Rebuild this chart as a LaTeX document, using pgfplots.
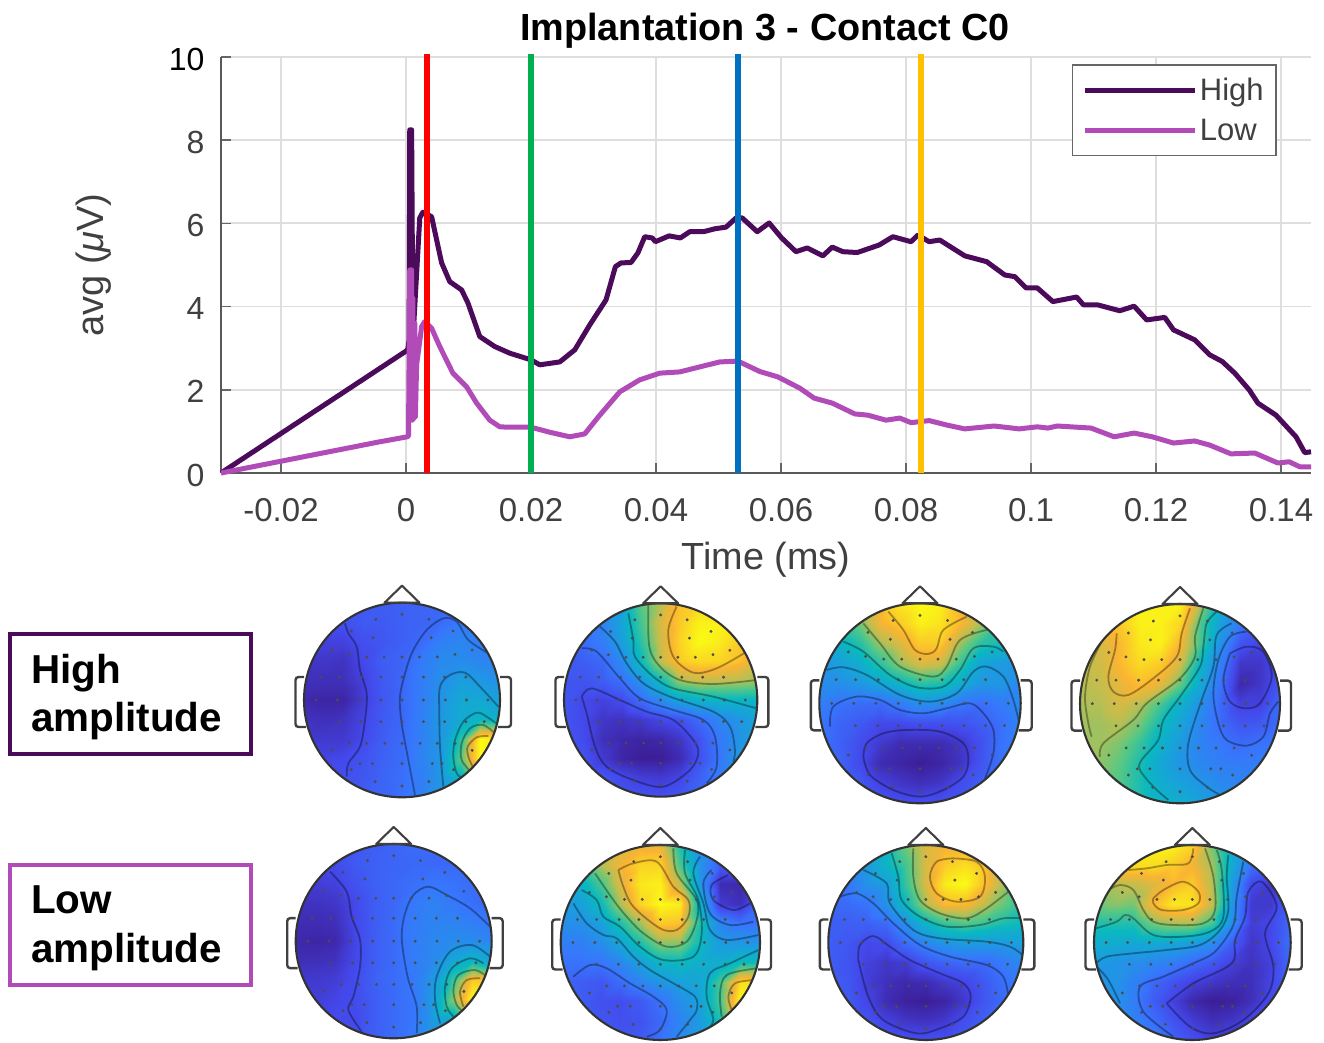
\documentclass[border=0pt]{standalone}
\usepackage{fontspec}
\setmainfont{Liberation Sans}
\usepackage{pgfplots}
\usepackage{pgfplotstable}
\pgfplotsset{compat=1.18}
\definecolor{hic}{RGB}{75,10,90}
\definecolor{loc}{RGB}{176,75,184}
\definecolor{tk}{RGB}{64,64,64}
\pgfplotsset{colormap={topo}{rgb255(0)=(60,30,150) rgb255(12)=(68,72,235) rgb255(25)=(55,118,252) rgb255(40)=(25,160,220) rgb255(52)=(10,185,190) rgb255(65)=(90,200,130) rgb255(75)=(190,190,80) rgb255(85)=(250,180,50) rgb255(100)=(250,250,20)}}
\pgfplotstableread{
0 -.88
-.267 -.829
.274 -.829
-.517 -.709
.521 -.709
-.295 -.64
.298 -.64
-.712 -.514
.716 -.514
-.541 -.469
.541 -.469
-.36 -.442
-.182 -.442
0 -.442
.178 -.442
.36 -.442
-.832 -.236
-.64 -.236
-.414 -.236
-.216 -.236
0 -.236
.219 -.236
.435 -.236
.651 -.236
-.877 0
-.658 0
-.438 0
-.216 0
0 0
.219 0
.442 0
.658 0
.877 0
-.64 .223
-.421 .223
-.216 .223
0 .223
.219 .223
.435 .223
.651 .223
.839 .223
-.538 .445
-.36 .445
-.175 .445
0 .445
.185 .445
.36 .445
.541 .445
-.712 .517
.716 .517
-.428 .654
-.301 .654
0 .654
.308 .654
.408 .654
-.517 .716
.527 .716
-.274 .839
.274 .839
0 .884
}\elec
\newcommand\setHead[8]{\def\hL{#1}\def\hR{#2}\def\hT{#3}\def\hB{#4}\def\zL{#5}\def\zR{#6}\def\zT{#7}\def\zB{#8}%
\pgfmathsetmacro\hW{#2-#1}\pgfmathsetmacro\hH{#4-#3}\pgfmathsetmacro\hY{1042-#4}%
\pgfmathsetmacro\cxx{(#1+#2)/2}\pgfmathsetmacro\cyy{1042-(#3+#4)/2}%
\pgfmathsetmacro\rxx{(#2-#1)/2}\pgfmathsetmacro\ryy{(#4-#3)/2}%
\pgfmathsetmacro\Xc{(#5+#6)/2}\pgfmathsetmacro\Yc{(#7+#8)/2}\pgfmathsetmacro\Xr{(#6-#5)/2}\pgfmathsetmacro\Yr{(#8-#7)/2}}
\pgfplotsset{topo/.style={scale only axis,hide axis,anchor=south west,at={(\hL pt,\hY pt)},width=\hW pt,height=\hH pt,xmin=\zL,xmax=\zR,ymin=\zT,ymax=\zB,y dir=reverse}}
\newcommand\cn[1]{\addplot[smooth,tension=.55,black,opacity=.34,line width=1.8pt] coordinates {#1};}
\newcommand\headplot[2]{%
\begin{scope}
\clip (\cxx pt,\cyy pt) ellipse [x radius=\rxx pt,y radius=\ryy pt];
\begin{axis}[topo,view={0}{90},zmin=-1,zmax=1,colormap name=topo,point meta min=0,point meta max=100]
\addplot3[surf,shader=interp,mesh/cols=11,mesh/ordering=x varies,point meta=\thisrowno{0}] table[row sep=crcr,header=false,x expr={\zL+(\zR-\zL)*mod(\coordindex,11)/10},y expr={\zT+(\zB-\zT)*floor(\coordindex/11)/10},z expr=0] {#1};
\end{axis}
\begin{axis}[topo]
#2
\addplot[only marks,mark=*,mark size=1.25pt,black!70,mark options={draw=none}] table[x expr={\Xc+\Xr*\thisrowno{0}},y expr={\Yc+\Yr*\thisrowno{1}},header=false] {\elec};
\end{axis}
\end{scope}
\draw[black!80,line width=2.1pt] (\cxx pt,\cyy pt) ellipse [x radius=\rxx pt,y radius=\ryy pt];
\draw[black!75,line width=2.1pt,line join=round] (\cxx pt-17.5pt,\cyy pt+\ryy pt) -- (\cxx pt,\cyy pt+\ryy pt+17pt) -- (\cxx pt+17.5pt,\cyy pt+\ryy pt) -- cycle;
\draw[black!75,line width=2.4pt,rounded corners=3pt] (\hL pt,\cyy pt+23pt) -- (\hL pt-8.5pt,\cyy pt+23pt) -- (\hL pt-8.5pt,\cyy pt-27pt) -- (\hL pt+2pt,\cyy pt-27pt);
\draw[black!75,line width=2.4pt,rounded corners=3pt] (\hR pt,\cyy pt+23pt) -- (\hR pt+11pt,\cyy pt+23pt) -- (\hR pt+11pt,\cyy pt-27pt) -- (\hR pt-2pt,\cyy pt-27pt);
}
\begin{document}
\begin{tikzpicture}[x=1pt,y=1pt]
\useasboundingbox (0,0) rectangle (1324,1042);
\begin{axis}[scale only axis,anchor=south west,at={(221pt,569pt)},width=1090pt,height=416pt,
xmin=-0.0296,xmax=0.1448,ymin=0,ymax=10,clip=false,
axis x line=bottom,axis y line=left,axis line style={-,draw=black!65,line width=2pt},
xtick={-0.02,0,0.02,0.04,0.06,0.08,0.1,0.12,0.14},
xticklabels={-0.02,0,0.02,0.04,0.06,0.08,0.1,0.12,0.14},
ytick={0,2,4,6,8,10},yticklabels={0,2,4,6,8,{\color{black}10}},
tick align=inside,major tick length=10pt,tick style={draw=black!60,line width=1.5pt},
grid=major,grid style={draw=black!13,line width=1.8pt},
xticklabel style={font=\fontsize{33}{36}\selectfont,text=tk,yshift=-22pt},
yticklabel style={font=\fontsize{32}{36}\selectfont,text=tk,xshift=-13pt,yshift=-2pt},
title={Implantation 3 - Contact C0},title style={font=\fontsize{37.8}{40}\selectfont\bfseries,at={(axis description cs:0.499,1.026)},anchor=base},
xlabel={Time (ms)},xlabel style={font=\fontsize{37.8}{40}\selectfont,text=tk,at={(axis description cs:0.5,-0.233)},anchor=base},
ylabel={avg ({\itshape μ}V)},ylabel style={font=\fontsize{38}{40}\selectfont,text=tk,at={(axis description cs:-0.108,0.5)},anchor=base},
legend style={at={(0.9688,0.983)},anchor=north east,draw=black!60,line width=1.6pt,font=\fontsize{31}{36}\selectfont,text=tk,row sep=13pt,inner xsep=10.5pt,inner ysep=11.5pt,legend cell align=left},
legend image code/.code={\draw[#1] (-3pt,0pt) -- (107pt,0pt);},
]
\addplot[hic,line width=5pt,line join=round] coordinates {
(-.0296,0)(0,2.93)(.0003,2.98)(.0005,3.2)(.0006,8.25)(.0009,8.25)(.0011,3.2)(.0022,6.13)(.0027,6.27)(.0041,6.16)(.0057,5.05)(.0070,4.6)(.0089,4.4)(.0099,4.09)(.0118,3.28)(.0142,3.04)(.0166,2.88)(.02,2.72)(.0214,2.6)(.0246,2.67)(.027,2.96)(.0294,3.56)(.032,4.16)(.0335,4.96)(.0344,5.05)(.036,5.06)(.0371,5.29)(.0382,5.68)(.0394,5.65)(.0399,5.56)(.0421,5.70)(.0439,5.65)(.0454,5.80)(.0476,5.80)(.0494,5.87)(.0512,5.91)(.0528,6.13)(.0538,6.13)(.0562,5.80)(.0581,6.01)(.0601,5.65)(.0624,5.32)(.0642,5.41)(.0667,5.22)(.0682,5.43)(.0699,5.32)(.0722,5.30)(.0757,5.48)(.0779,5.68)(.0808,5.56)(.0819,5.72)(.0837,5.56)(.0854,5.60)(.0894,5.22)(.0929,5.08)(.0958,4.76)(.0974,4.72)(.0992,4.45)(.1010,4.45)(.1035,4.12)(.1073,4.23)(.1084,4.04)(.1107,4.04)(.1142,3.90)(.1165,4.01)(.1185,3.68)(.1214,3.74)(.1228,3.44)(.1262,3.20)(.1286,2.84)(.1306,2.68)(.1326,2.40)(.1349,2.0)(.1363,1.68)(.1392,1.39)(.1424,.87)(.1438,.49)(.1448,.51)};
\addlegendentry{High}
\addplot[loc,line width=5pt,line join=round] coordinates {
(-.0296,0)(-.0042,.75)(.0002,.87)(.0004,.89)(.0006,4.88)(.0009,4.88)(.0010,1.27)(.0011,4.2)(.0012,1.3)(.0014,3.6)(.0015,1.35)(.0017,2.6)(.0025,3.52)(.003,3.64)(.0041,3.48)(.0054,3.04)(.0075,2.40)(.0097,2.07)(.0113,1.68)(.0134,1.27)(.015,1.11)(.0166,1.1)(.02,1.1)(.023,.98)(.0262,.87)(.0286,.94)(.031,1.39)(.0342,1.95)(.0374,2.24)(.0406,2.40)(.0438,2.43)(.047,2.55)(.0502,2.67)(.0531,2.69)(.0566,2.44)(.0595,2.31)(.063,2.04)(.0653,1.80)(.0682,1.68)(.0718,1.42)(.0739,1.39)(.0768,1.27)(.079,1.32)(.0808,1.21)(.0837,1.26)(.0866,1.15)(.0894,1.06)(.0941,1.13)(.0981,1.06)(.101,1.11)(.1027,1.08)(.1042,1.13)(.1096,1.08)(.1133,.87)(.1165,.96)(.1194,.87)(.1228,.72)(.1262,.77)(.1286,.67)(.132,.46)(.1358,.48)(.1395,.24)(.1413,.27)(.143,.15)(.1448,.15)};
\addlegendentry{Low}
\addplot[forget plot,red,line width=6pt] coordinates {(.00336,0)(.00336,10.06)};
\addplot[forget plot,color={rgb,255:red,0;green,176;blue,80},line width=6pt] coordinates {(.02,0)(.02,10.06)};
\addplot[forget plot,color={rgb,255:red,0;green,112;blue,192},line width=6pt] coordinates {(.0531,0)(.0531,10.06)};
\addplot[forget plot,color={rgb,255:red,255;green,192;blue,0},line width=6pt] coordinates {(.0824,0)(.0824,10.06)};
\end{axis}
% label boxes
\draw[hic,line width=3.5pt] (10,408) rectangle (251,288);
\node[anchor=base west,font=\fontsize{40.4}{44}\selectfont\bfseries,inner sep=0pt] at (31,359) {High};
\node[anchor=base west,font=\fontsize{40.4}{44}\selectfont\bfseries,inner sep=0pt] at (31,310.3) {amplitude};
\draw[loc,line width=3.5pt] (10,177) rectangle (251,57);
\node[anchor=base west,font=\fontsize{40.4}{44}\selectfont\bfseries,inner sep=0pt] at (31,129) {Low};
\node[anchor=base west,font=\fontsize{40.4}{44}\selectfont\bfseries,inner sep=0pt] at (31,79.3) {amplitude};
% Head 1
\setHead{304}{500}{602.7}{797.3}{72}{660}{68}{652}
\headplot{
12\\12\\14\\16\\18\\19\\20\\21\\23\\24\\24\\
12\\12\\14\\17\\17\\19\\20\\22\\26\\26\\26\\
10\\10\\10\\14\\16\\19\\22\\29\\31\\27\\26\\
7\\7\\6\\12\\18\\20\\27\\32\\33\\31\\29\\
5\\5\\5\\10\\17\\21\\28\\34\\40\\37\\34\\
3\\2\\2\\9\\16\\21\\28\\36\\44\\44\\40\\
6\\5\\6\\11\\17\\21\\29\\37\\45\\50\\47\\
8\\8\\8\\12\\18\\22\\29\\37\\58\\100\\95\\
11\\11\\12\\15\\19\\22\\30\\37\\65\\100\\95\\
13\\13\\14\\16\\20\\23\\28\\37\\48\\55\\50\\
14\\14\\16\\18\\20\\24\\29\\36\\40\\40\\40\\
}{
\cn{(195,130)(205,160)(230,200)(240,270)(260,340)(255,420)(240,500)(205,550)(200,590)}
\cn{(625,220)(565,180)(530,125)(490,115)(440,150)(400,210)(378,270)(360,350)(365,430)(385,540)(405,645)}
\cn{(655,380)(600,320)(555,278)(510,285)(480,320)(478,400)(480,500)(490,620)}
\cn{(655,435)(620,410)(590,398)(550,425)(525,480)(520,530)(530,580)(550,595)}
\cn{(650,465)(610,435)(570,445)(545,490)(545,540)(575,578)}
\cn{(625,468)(590,472)(563,500)(565,530)(580,565)}
}
% Head 2
\setHead{564}{757.3}{603.3}{796.7}{852}{1432}{70}{650}
\headplot{
40\\40\\40\\40\\65\\75\\88\\92\\92\\92\\92\\
28\\28\\30\\42\\62\\80\\90\\98\\98\\95\\90\\
20\\22\\28\\40\\58\\78\\92\\100\\97\\90\\85\\
16\\18\\21\\32\\52\\76\\90\\93\\92\\88\\80\\
16\\15\\18\\23\\35\\52\\72\\76\\75\\74\\72\\
16\\12\\10\\13\\22\\32\\42\\48\\50\\50\\50\\
16\\12\\7\\6\\8\\12\\15\\22\\31\\36\\42\\
16\\13\\5\\3\\2\\3\\7\\15\\26\\35\\42\\
16\\15\\8\\2\\0\\0\\4\\14\\25\\37\\40\\
16\\16\\16\\12\\9\\8\\11\\19\\27\\33\\35\\
18\\18\\18\\16\\15\\14\\16\\20\\26\\30\\30\\
}{
\cn{(905,350)(935,325)(1020,360)(1100,395)(1180,420)(1240,480)(1255,520)(1230,570)(1150,620)(1060,600)(980,560)(945,500)(920,400)(905,350)}
\cn{(905,205)(950,215)(1020,295)(1080,355)(1180,390)(1270,420)(1305,470)(1310,560)(1280,610)}
\cn{(960,140)(1005,185)(1040,250)(1090,310)(1170,350)(1300,395)(1350,440)(1365,510)(1360,545)}
\cn{(1045,100)(1060,180)(1065,230)(1120,290)(1180,325)(1300,350)(1430,385)}
\cn{(1105,75)(1108,200)(1140,260)(1200,300)(1300,312)(1430,300)}
\cn{(1190,80)(1165,150)(1180,230)(1240,278)(1310,265)(1395,218)}
}
% Head 3
\setHead{819.3}{1020.7}{603.3}{803.3}{58}{662}{70}{670}
\headplot{
60\\60\\72\\85\\96\\100\\98\\85\\72\\60\\60\\
45\\48\\68\\84\\90\\98\\95\\86\\74\\60\\50\\
40\\48\\57\\72\\80\\90\\90\\72\\58\\54\\45\\
34\\40\\46\\58\\71\\80\\78\\60\\42\\38\\35\\
32\\34\\37\\42\\50\\58\\56\\46\\37\\37\\32\\
28\\24\\22\\22\\27\\35\\33\\26\\23\\27\\33\\
25\\20\\17\\12\\12\\14\\14\\15\\18\\23\\30\\
25\\19\\13\\8\\4\\4\\4\\7\\14\\24\\28\\
24\\20\\12\\4\\2\\0\\2\\6\\15\\24\\26\\
24\\21\\17\\10\\7\\5\\7\\13\\18\\24\\26\\
24\\22\\20\\16\\14\\14\\14\\16\\20\\24\\26\\
}{
\cn{(265,95)(310,150)(345,210)(385,222)(410,205)(430,150)(500,110)}
\cn{(190,130)(240,190)(300,260)(400,290)(440,260)(480,180)(560,150)}
\cn{(130,185)(190,215)(270,285)(350,322)(430,320)(480,270)(520,205)(580,200)(610,215)}
\cn{(80,270)(130,262)(200,285)(300,345)(390,365)(470,340)(520,275)(560,260)(610,290)(640,360)(660,440)}
\cn{(90,440)(100,380)(170,350)(240,360)(300,390)(370,400)(440,385)(510,370)(550,400)(580,450)(580,520)(555,595)}
\cn{(190,530)(200,490)(250,460)(320,450)(420,455)(490,490)(505,540)(490,590)(430,630)(360,650)(280,630)(210,585)(190,530)}
}
% Head 4
\setHead{1080}{1280}{604}{803.3}{840}{1440}{72}{670}
\headplot{
90\\92\\95\\98\\98\\98\\74\\48\\30\\22\\22\\
80\\80\\90\\98\\98\\92\\63\\40\\26\\18\\15\\
76\\79\\86\\96\\98\\85\\62\\34\\15\\11\\14\\
74\\78\\86\\93\\90\\78\\50\\28\\7\\7\\14\\
74\\76\\82\\87\\82\\66\\44\\24\\3\\7\\16\\
73\\74\\79\\74\\62\\47\\35\\22\\10\\10\\22\\
72\\72\\74\\67\\53\\42\\31\\22\\16\\17\\22\\
72\\72\\68\\59\\48\\38\\30\\26\\22\\24\\25\\
72\\70\\65\\55\\43\\36\\31\\28\\27\\28\\28\\
70\\68\\63\\55\\46\\41\\36\\32\\30\\30\\30\\
66\\65\\61\\55\\50\\46\\41\\36\\32\\30\\30\\
}{
\cn{(950,160)(945,210)(925,290)(940,335)(985,345)(1060,295)(1130,230)(1145,160)(1170,85)}
\cn{(1210,85)(1185,170)(1185,230)(1140,295)(1040,370)(1000,420)(910,490)(900,530)}
\cn{(905,185)(870,260)(855,350)(865,430)(875,470)}
\cn{(1250,95)(1220,130)(1210,200)(1200,260)(1140,350)(1090,420)(1075,480)(1025,540)(1020,570)(1060,620)(1105,660)}
\cn{(1295,130)(1250,165)(1240,260)(1205,360)(1165,490)(1170,570)(1220,620)(1260,645)}
\cn{(1340,155)(1290,170)(1255,240)(1240,340)(1255,430)(1280,480)(1340,497)(1390,470)(1410,400)(1435,365)}
\cn{(1290,220)(1340,200)(1390,215)(1415,290)(1380,370)(1335,385)(1290,365)(1270,300)(1290,220)}
}
% Head 5
\setHead{295.7}{491.7}{844}{1038.3}{47}{635}{72}{655}
\headplot{
12\\12\\14\\16\\18\\20\\22\\22\\22\\22\\22\\
12\\12\\13\\17\\19\\20\\21\\21\\21\\21\\21\\
9\\9\\10\\15\\19\\21\\23\\25\\24\\22\\20\\
6\\6\\7\\12\\18\\21\\26\\29\\26\\23\\20\\
4\\4\\5\\12\\18\\22\\27\\30\\30\\28\\25\\
3\\2\\3\\11\\18\\22\\27\\31\\33\\33\\30\\
5\\5\\6\\12\\18\\22\\27\\32\\44\\50\\40\\
8\\8\\9\\13\\19\\22\\26\\37\\60\\90\\88\\
9\\9\\11\\13\\18\\22\\25\\38\\70\\100\\95\\
11\\11\\13\\12\\18\\22\\25\\38\\44\\50\\45\\
13\\13\\13\\14\\18\\22\\27\\35\\38\\38\\38\\
}{
\cn{(150,155)(200,215)(215,290)(240,360)(240,440)(220,530)(205,570)(245,635)}
\cn{(630,320)(570,265)(500,225)(445,200)(400,225)(375,280)(365,340)(370,400)(385,480)(410,560)(410,640)}
\cn{(630,410)(575,375)(510,395)(470,470)(465,540)(480,610)}
\cn{(610,430)(570,415)(515,445)(495,500)(500,560)(520,590)}
\cn{(620,470)(585,450)(535,465)(520,510)(530,555)(550,575)}
\cn{(600,475)(560,480)(540,515)(550,560)}
}
% Head 6
\setHead{560.7}{760}{845}{1040}{842}{1440}{75}{660}
\headplot{
60\\60\\72\\80\\82\\82\\55\\32\\25\\20\\20\\
50\\55\\74\\84\\92\\92\\62\\35\\18\\18\\18\\
42\\48\\62\\80\\96\\98\\75\\35\\4\\3\\12\\
38\\40\\52\\73\\92\\100\\97\\47\\8\\5\\20\\
34\\34\\40\\55\\72\\90\\88\\56\\30\\24\\24\\
28\\28\\33\\42\\55\\70\\70\\52\\38\\37\\36\\
24\\24\\25\\31\\40\\50\\52\\47\\46\\52\\52\\
20\\18\\16\\22\\30\\36\\41\\43\\62\\94\\94\\
20\\18\\14\\13\\17\\24\\34\\41\\62\\100\\100\\
20\\18\\16\\14\\15\\21\\30\\38\\55\\78\\70\\
20\\20\\18\\16\\17\\24\\32\\38\\45\\50\\50\\
}{
\cn{(1015,150)(1060,130)(1130,125)(1180,200)(1225,240)(1225,290)(1190,330)(1140,325)(1060,260)(1030,200)(1015,150)}
\cn{(945,160)(1000,240)(1040,290)(1090,340)(1160,380)(1220,365)(1250,300)(1250,240)(1190,160)(1180,85)}
\cn{(905,210)(950,240)(970,290)(1020,320)(1080,380)(1150,420)(1240,410)(1265,340)(1255,240)(1215,160)(1215,90)}
\cn{(880,250)(920,310)(970,345)(1010,355)(1060,410)(1110,450)(1180,490)(1245,530)(1250,570)(1230,600)(1190,650)}
\cn{(1260,110)(1240,160)(1270,250)(1290,330)(1340,360)(1435,345)}
\cn{(1295,150)(1270,190)(1290,280)(1350,315)(1420,305)}
\cn{(1345,165)(1295,195)(1300,240)(1360,270)(1410,250)}
\cn{(1435,390)(1350,430)(1290,460)(1280,530)(1300,600)(1280,630)}
\cn{(1430,445)(1340,465)(1320,520)(1325,590)}
\cn{(1425,480)(1365,490)(1345,530)(1355,570)}
\cn{(880,470)(930,435)(980,445)(1050,490)(1120,530)(1160,570)(1140,630)(1100,650)}
}
% Head 7
\setHead{828.3}{1023.3}{845}{1040}{85}{670}{75}{660}
\headplot{
30\\30\\36\\50\\68\\80\\84\\84\\72\\60\\60\\
26\\28\\38\\50\\62\\80\\90\\94\\88\\72\\60\\
24\\26\\35\\39\\60\\80\\97\\100\\88\\72\\60\\
20\\22\\24\\35\\52\\74\\86\\86\\76\\66\\58\\
18\\18\\19\\22\\34\\50\\60\\64\\60\\55\\52\\
18\\16\\12\\13\\22\\30\\36\\39\\38\\38\\40\\
18\\15\\10\\7\\9\\16\\20\\22\\22\\27\\32\\
18\\16\\9\\5\\3\\4\\8\\11\\17\\23\\28\\
18\\17\\11\\4\\1\\0\\2\\8\\16\\22\\26\\
20\\18\\15\\10\\7\\6\\8\\14\\19\\24\\26\\
22\\20\\18\\16\\14\\14\\14\\17\\20\\24\\26\\
}{
\cn{(458,115)(410,125)(390,170)(410,220)(470,245)(540,230)(555,170)(530,125)(458,115)}
\cn{(340,85)(340,170)(360,240)(420,280)(500,295)(560,265)(625,215)}
\cn{(275,100)(295,170)(305,240)(360,290)(440,320)(540,315)(610,295)(670,295)}
\cn{(190,150)(260,190)(270,250)(340,330)(420,355)(560,365)(630,380)(668,405)}
\cn{(120,230)(170,220)(220,250)(280,310)(360,375)(450,410)(560,435)(610,470)(625,530)}
\cn{(175,420)(180,375)(220,348)(270,380)(330,420)(420,460)(490,490)(512,530)(490,590)(420,625)(350,640)(250,600)(205,530)(175,420)}
}
% Head 8
\setHead{1094}{1290.7}{845}{1040}{882}{1472}{75}{660}
\headplot{
75\\80\\92\\98\\98\\92\\68\\45\\28\\25\\25\\
74\\82\\94\\94\\90\\84\\72\\44\\24\\18\\18\\
70\\74\\76\\80\\86\\90\\74\\38\\12\\8\\18\\
66\\70\\68\\86\\96\\95\\76\\36\\8\\8\\20\\
56\\56\\56\\68\\73\\73\\62\\33\\9\\12\\22\\
46\\45\\43\\44\\42\\39\\33\\18\\7\\12\\24\\
38\\36\\34\\31\\28\\22\\17\\10\\6\\10\\22\\
36\\36\\29\\21\\15\\10\\7\\5\\5\\11\\20\\
36\\36\\28\\18\\10\\3\\0\\1\\5\\13\\20\\
36\\35\\30\\23\\15\\9\\5\\7\\12\\18\\22\\
36\\35\\32\\28\\20\\14\\10\\11\\15\\20\\24\\
}{
\cn{(985,150)(1040,145)(1100,135)(1165,130)(1180,85)}
\cn{(1060,235)(1090,210)(1150,185)(1195,215)(1195,250)(1150,270)(1085,270)(1060,250)(1060,235)}
\cn{(925,210)(960,195)(1000,210)(1030,270)(1060,305)(1120,315)(1210,310)(1245,270)(1240,170)(1215,85)}
\cn{(888,325)(950,305)(975,285)(1000,295)(1060,345)(1150,350)(1230,335)(1270,290)(1265,150)(1250,90)}
\cn{(888,430)(920,410)(1000,400)(1100,390)(1200,375)(1260,330)(1285,270)(1280,170)(1285,105)}
\cn{(890,440)(925,480)(960,550)}
\cn{(1120,650)(1030,575)(1020,500)(1090,470)(1180,430)(1245,395)(1300,315)(1310,230)(1330,125)}
\cn{(1100,550)(1180,490)(1295,430)(1305,360)(1335,290)(1345,215)(1385,185)(1430,260)(1395,340)(1420,440)(1405,520)(1330,600)(1240,640)(1170,620)(1100,550)}
}
\end{tikzpicture}
\end{document}
